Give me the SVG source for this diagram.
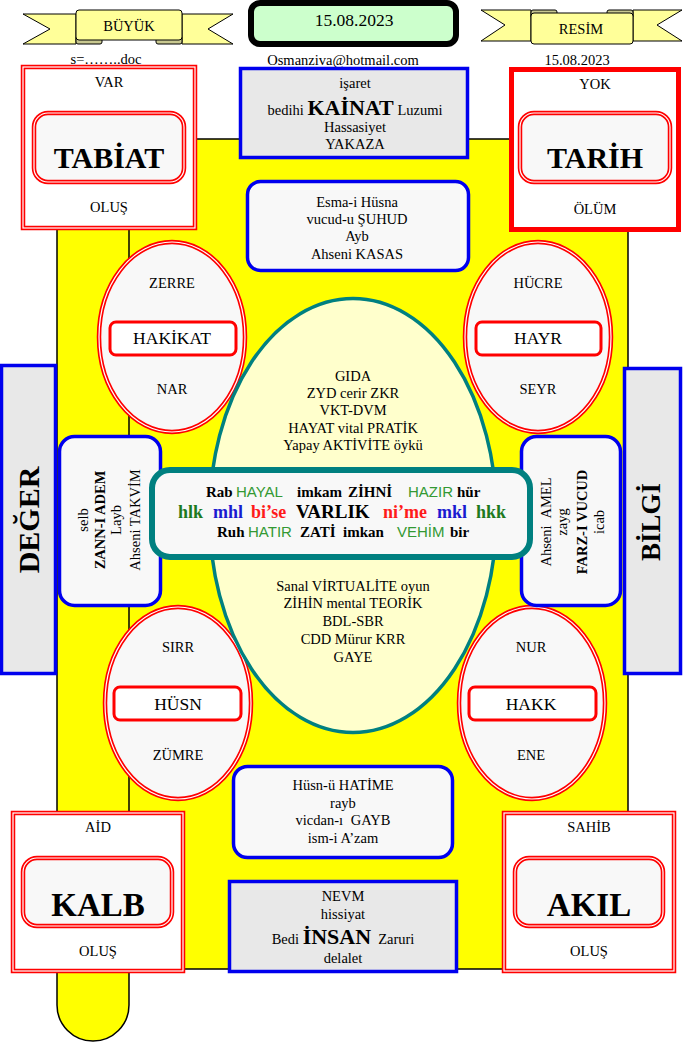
<svg xmlns="http://www.w3.org/2000/svg" width="683" height="1042" viewBox="0 0 683 1042">
<style>
text{font-family:"Liberation Serif","Times New Roman",serif;font-size:14.5px;text-anchor:middle;fill:#000}
.b{font-weight:bold}
.big{font-size:30px;font-weight:bold}
.rib{fill:#ffff99;stroke:#000;stroke-width:1}
.fold{fill:#c8c890;stroke:#000;stroke-width:1}
.bl{stroke:#0000ee;stroke-width:3.5}
.r2{fill:none;stroke:#ff0000;stroke-width:4.5}
.rw{fill:none;stroke:#ffffff;stroke-width:1.2}
.lb{fill:#f8f8f8}
.gr{fill:#e8e8e8}
.g{fill:#339933;font-family:"Liberation Sans",Arial,sans-serif;font-weight:normal}
.gd{fill:#1e7a1e}
.bu{fill:#1a1ad0}
.rd{fill:#ff1a1a}
.st{text-anchor:start}
</style>
<rect x="0" y="0" width="683" height="1042" fill="#ffffff"/>
<g id="background">
<rect x="57" y="139" width="571" height="830" fill="#ffff00" stroke="#000" stroke-width="1.5"/>
<path d="M57,969 V1005 A36,36 0 0 0 129,1005 V969" fill="#ffff00" stroke="#000" stroke-width="1.5"/>
<line x1="129" y1="139" x2="129" y2="969" stroke="#000" stroke-width="1.5"/>
</g>
<g id="connectors"></g>
<g id="banner-buyuk">
<polygon class="rib" points="23,14 76,14 76,44 23,44 50,29"/>
<polygon class="rib" points="233,14 182,14 182,44 233,44 208,29"/>
<rect class="fold" x="76" y="36" width="26" height="8" rx="2"/>
<rect class="fold" x="156" y="36" width="26" height="8" rx="2"/>
<rect class="rib" x="76" y="10" width="106" height="30" rx="3"/>
<text x="129" y="31">BÜYÜK</text>
</g>
<g id="date-box">
<rect x="251" y="3" width="205" height="41" rx="9" fill="#ccffcc" stroke="#000" stroke-width="6"/>
<text x="354" y="26" style="font-size:17.5px">15.08.2023</text>
</g>
<g id="banner-resim">
<polygon class="rib" points="481,10 531,10 531,41 481,41 505,25"/>
<polygon class="rib" points="682,10 633,10 633,41 682,41 657,25"/>
<rect class="fold" x="531" y="10" width="26" height="8" rx="2"/>
<rect class="fold" x="607" y="10" width="26" height="8" rx="2"/>
<rect class="rib" x="531" y="13" width="102" height="31" rx="3"/>
<text x="581" y="34">RESİM</text>
</g>
<g id="header-texts">
<text x="106" y="64">s=……..doc</text>
<text x="343" y="65">Osmanziva@hotmail.com</text>
<text x="577" y="65">15.08.2023</text>
</g>
<g id="tabiat">
<rect x="23" y="67" width="172" height="161" class="r2" style="fill:#fff"/>
<rect x="23" y="67" width="172" height="161" class="rw"/>
<rect x="34" y="113" width="150" height="69" rx="14" class="r2" style="fill:#f8f8f8"/>
<rect x="34" y="113" width="150" height="69" rx="14" class="rw"/>
<text x="109" y="87">VAR</text>
<text x="109" y="168" class="big">TABİAT</text>
<text x="109" y="212">OLUŞ</text>
</g>
<g id="tarih">
<rect x="511.5" y="69.5" width="167" height="160" fill="#fff" stroke="#ff0000" stroke-width="5"/>
<rect x="520" y="113" width="150" height="69" rx="14" class="r2" style="fill:#f8f8f8"/>
<rect x="520" y="113" width="150" height="69" rx="14" class="rw"/>
<text x="595" y="89">YOK</text>
<text x="595" y="168" class="big">TARİH</text>
<text x="595" y="214">ÖLÜM</text>
</g>
<g id="kainat">
<rect x="240.5" y="68.5" width="227" height="89" class="gr bl"/>
<text x="355" y="88">işaret</text>
<text x="355" y="115">bedihi <tspan class="b" style="font-size:22px">KAİNAT</tspan> Luzumi</text>
<text x="355" y="132">Hassasiyet</text>
<text x="355" y="149">YAKAZA</text>
</g>
<g id="esma">
<rect x="247.5" y="181.5" width="221" height="89" rx="13" class="lb bl"/>
<text x="357" y="207">Esma-i Hüsna</text>
<text x="357" y="224">vucud-u ŞUHUD</text>
<text x="357" y="241">Ayb</text>
<text x="357" y="259">Ahseni KASAS</text>
</g>
<g id="hakikat">
<ellipse cx="172" cy="337" rx="73" ry="95" class="r2" style="fill:#f8f8f8"/>
<ellipse cx="172" cy="337" rx="73" ry="95" class="rw"/>
<rect x="110" y="322" width="126" height="33" rx="6" fill="#fff" stroke="#ff0000" stroke-width="3"/>
<text x="172" y="288">ZERRE</text>
<text x="172" y="344" style="font-size:17.5px">HAKİKAT</text>
<text x="172" y="394">NAR</text>
</g>
<g id="hayr">
<ellipse cx="538" cy="337" rx="73" ry="95" class="r2" style="fill:#f8f8f8"/>
<ellipse cx="538" cy="337" rx="73" ry="95" class="rw"/>
<rect x="476" y="322" width="125" height="33" rx="6" fill="#fff" stroke="#ff0000" stroke-width="3"/>
<text x="538" y="288">HÜCRE</text>
<text x="538" y="344" style="font-size:17.5px">HAYR</text>
<text x="538" y="394">SEYR</text>
</g>
<g id="husn">
<ellipse cx="178" cy="703" rx="73" ry="96" class="r2" style="fill:#f8f8f8"/>
<ellipse cx="178" cy="703" rx="73" ry="96" class="rw"/>
<rect x="114" y="687" width="127" height="33" rx="6" fill="#fff" stroke="#ff0000" stroke-width="3"/>
<text x="178" y="652">SIRR</text>
<text x="178" y="710" style="font-size:17.5px">HÜSN</text>
<text x="178" y="760">ZÜMRE</text>
</g>
<g id="hakk">
<ellipse cx="532" cy="703" rx="73" ry="96" class="r2" style="fill:#f8f8f8"/>
<ellipse cx="532" cy="703" rx="73" ry="96" class="rw"/>
<rect x="469" y="687" width="127" height="33" rx="6" fill="#fff" stroke="#ff0000" stroke-width="3"/>
<text x="531" y="652">NUR</text>
<text x="531" y="710" style="font-size:17.5px">HAKK</text>
<text x="531" y="760">ENE</text>
</g>
<g id="center-ellipse">
<ellipse cx="353" cy="515.5" rx="143.5" ry="217" fill="#ffffcc" stroke="#008080" stroke-width="3.5"/>
<text x="353" y="381">GIDA</text>
<text x="353" y="398">ZYD cerir ZKR</text>
<text x="353" y="415">VKT-DVM</text>
<text x="353" y="433">HAYAT vital PRATİK</text>
<text x="353" y="450">Yapay AKTİVİTE öykü</text>
<text x="353" y="591">Sanal VİRTUALİTE oyun</text>
<text x="353" y="608">ZİHİN mental TEORİK</text>
<text x="353" y="626">BDL-SBR</text>
<text x="353" y="644">CDD Mürur KRR</text>
<text x="353" y="662">GAYE</text>
</g>
<g id="deger">
<rect x="1.5" y="365.5" width="54" height="308" class="gr bl"/>
<text class="big" transform="translate(39,520) rotate(-90)">DEĞER</text>
</g>
<g id="zann">
<rect x="59.5" y="436.5" width="101" height="169" rx="15" class="lb bl"/>
<text transform="translate(88,520) rotate(-90)">selb</text>
<text class="b" transform="translate(105,520) rotate(-90)">ZANN-I ADEM</text>
<text transform="translate(121,520) rotate(-90)">Layb</text>
<text transform="translate(140,520) rotate(-90)">Ahseni TAKVİM</text>
</g>
<g id="bilgi">
<rect x="624.5" y="368.5" width="56" height="305" class="gr bl"/>
<text class="big" style="font-size:27px" transform="translate(660,522) rotate(-90)">BİLGİ</text>
</g>
<g id="farz">
<rect x="521.5" y="436.5" width="99" height="169" rx="15" class="lb bl"/>
<text transform="translate(551,522) rotate(-90)">Ahseni <tspan dx="4">AMEL</tspan></text>
<text transform="translate(567,522) rotate(-90)">zayg</text>
<text class="b" transform="translate(587,522) rotate(-90)">FARZ-I VUCUD</text>
<text transform="translate(604,522) rotate(-90)">icab</text>
</g>
<g id="varlik">
<rect x="152" y="470" width="378" height="87" rx="18" fill="#f8f8f8" stroke="#008080" stroke-width="6"/>
<text class="st" y="497" style="font-size:15px"><tspan x="206" class="b">Rab</tspan><tspan x="236" class="g">HAYAL</tspan><tspan x="297" class="b">imkam</tspan><tspan x="348" class="b">ZİHNİ</tspan><tspan x="408" class="g">HAZIR</tspan><tspan x="457" class="b">hür</tspan></text>
<text class="st b" y="518" style="font-size:18px"><tspan x="178" class="gd">hlk</tspan><tspan x="213" class="bu">mhl</tspan><tspan x="251" class="rd">bi’se</tspan><tspan x="296" style="font-size:19px">VARLIK</tspan><tspan x="383" class="rd">ni’me</tspan><tspan x="437" class="bu">mkl</tspan><tspan x="476" class="gd">hkk</tspan></text>
<text class="st" y="537" style="font-size:15px"><tspan x="217" class="b">Ruh</tspan><tspan x="248" class="g">HATIR</tspan><tspan x="300" class="b">ZATİ</tspan><tspan x="343" class="b">imkan</tspan><tspan x="397" class="g">VEHİM</tspan><tspan x="450" class="b">bir</tspan></text>
</g>
<g id="husnu-hatime">
<rect x="233.5" y="766.5" width="219" height="91" rx="14" class="lb bl"/>
<text x="343" y="790">Hüsn-ü HATİME</text>
<text x="343" y="808">rayb</text>
<text x="343" y="825">vicdan-ı <tspan dx="4">GAYB</tspan></text>
<text x="343" y="843">ism-i A’zam</text>
</g>
<g id="nevm">
<rect x="229.5" y="881.5" width="227" height="90" class="gr bl"/>
<text x="343" y="901">NEVM</text>
<text x="343" y="919">hissiyat</text>
<text x="343" y="944">Bedi <tspan class="b" style="font-size:22px">İNSAN</tspan><tspan dx="7">Zaruri</tspan></text>
<text x="343" y="963">delalet</text>
</g>
<g id="kalb">
<rect x="13" y="813" width="170" height="158" class="r2" style="fill:#fff"/>
<rect x="13" y="813" width="170" height="158" class="rw"/>
<rect x="23" y="858" width="149" height="68" rx="14" class="r2" style="fill:#f8f8f8"/>
<rect x="23" y="858" width="149" height="68" rx="14" class="rw"/>
<text x="98" y="832">AİD</text>
<text x="98" y="916" class="big" style="font-size:33px">KALB</text>
<text x="98" y="956">OLUŞ</text>
</g>
<g id="akil">
<rect x="504" y="813" width="170" height="158" class="r2" style="fill:#fff"/>
<rect x="504" y="813" width="170" height="158" class="rw"/>
<rect x="515" y="858" width="148" height="68" rx="14" class="r2" style="fill:#f8f8f8"/>
<rect x="515" y="858" width="148" height="68" rx="14" class="rw"/>
<text x="589" y="832">SAHİB</text>
<text x="589" y="916" class="big" style="font-size:33px">AKIL</text>
<text x="589" y="956">OLUŞ</text>
</g>
</svg>
